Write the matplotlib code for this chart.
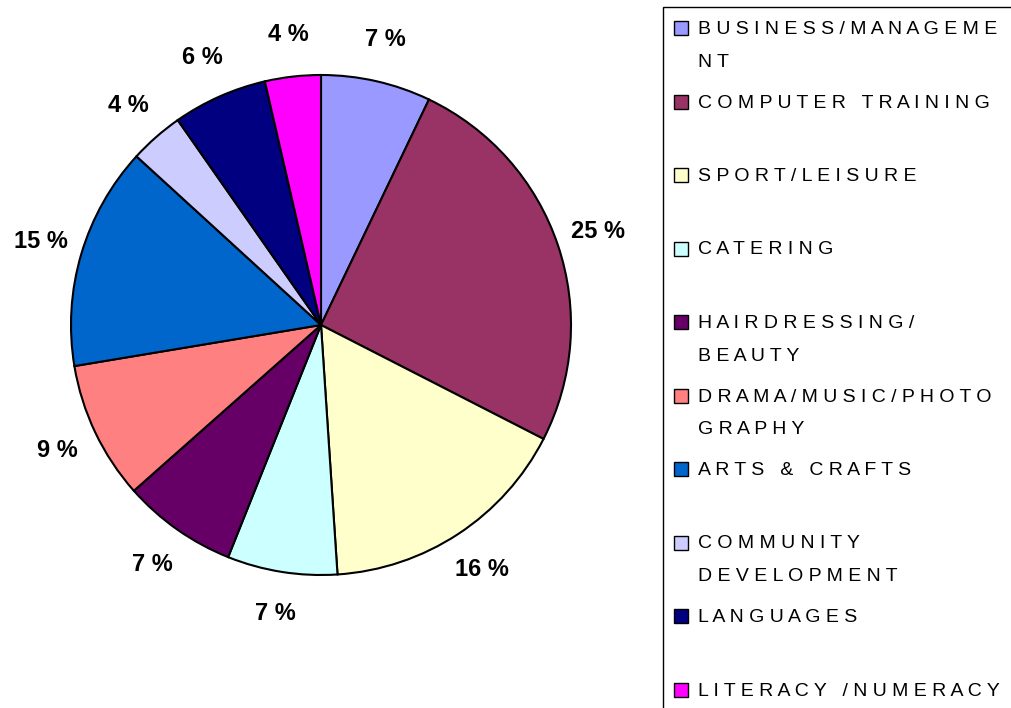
import matplotlib.pyplot as plt
from matplotlib.patches import Rectangle

# course areas, clockwise from 12 o'clock
courses = ['BUSINESS/MANAGEME\nNT', 'COMPUTER TRAINING', 'SPORT/LEISURE', 'CATERING',
           'HAIRDRESSING/\nBEAUTY', 'DRAMA/MUSIC/PHOTO\nGRAPHY', 'ARTS & CRAFTS',
           'COMMUNITY\nDEVELOPMENT', 'LANGUAGES', 'LITERACY /NUMERACY']
share = [7.1, 25.4, 16.4, 7.1, 7.4, 8.9, 14.4, 3.5, 6.1, 3.6]
pct_labels = [7, 25, 16, 7, 7, 9, 15, 4, 6, 4]
colors = ['#9999FF', '#993366', '#FFFFCC', '#CCFFFF', '#660066',
          '#FF8080', '#0066CC', '#CCCCFF', '#000080', '#FF00FF']

W, H = 1012, 708
font = ['Liberation Sans', 'DejaVu Sans']


def spaced(s):
    return '\n'.join(' '.join(line) for line in s.split('\n'))


fig = plt.figure(figsize=(W / 100, H / 100), dpi=100)

# pie: centre (321, 325) px, radius 250 px
cx, cy, r = 321, 325, 250
ax = fig.add_axes([(cx - r) / W, (H - cy - r) / H, 2 * r / W, 2 * r / H])
wedges, texts = ax.pie(share, colors=colors, labels=['%d %%' % p for p in pct_labels],
                       labeldistance=1.17, startangle=90, counterclock=False,
                       wedgeprops=dict(edgecolor='black', linewidth=1.5),
                       textprops=dict(family=font, fontweight='bold', fontsize=17))
for t in texts:
    t.set_ha('center')
    t.set_va('center')
ax.set_xlim(-1, 1)
ax.set_ylim(-1, 1)
ax.axis('off')

# legend box
fig.patches.append(Rectangle((663 / W, -0.05), 0.5, (H - 7) / H + 0.05,
                             transform=fig.transFigure, facecolor='white',
                             edgecolor='black', linewidth=1.0, zorder=0))
for i, (name, col) in enumerate(zip(courses, colors)):
    y = 28 + i * 73.5
    fig.patches.append(Rectangle((674 / W, (H - y - 7) / H), 14 / W, 14 / H,
                                 transform=fig.transFigure, facecolor=col,
                                 edgecolor='black', linewidth=1.0, zorder=2))
    fig.text(698 / W, (H - y + 7) / H, spaced(name), ha='left', va='top',
             family=font, fontsize=14, linespacing=2.2)

fig.savefig('out.png', dpi=100)
